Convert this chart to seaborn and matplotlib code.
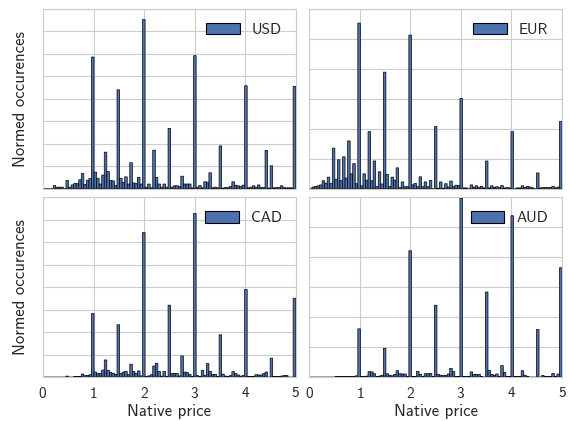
import numpy as np
import pandas as pd
import matplotlib
matplotlib.use("Agg")
import matplotlib.pyplot as plt
from matplotlib.patches import Patch
import seaborn as sns

sns.set_style("whitegrid")
plt.rcParams['font.family'] = ['cmss10', 'DejaVu Sans']
plt.rcParams['axes.formatter.use_mathtext'] = True

# price grid (0.05 .. 5.00 in steps of 0.05)
prices = np.round(np.arange(1, 101) * 0.05, 2)

currencies = ["USD", "EUR", "CAD", "AUD"]

usd = [0, 0, 0, 0, 0.13, 0.06, 0.06, 0.06, 0, 0.36,
       0.06, 0.16, 0.22, 0.22, 0.39, 0.67, 0.18, 0.37, 0.45, 5.86,
       0.73, 0.46, 0.2, 0.6, 1.62, 0.76, 0.36, 0.34, 0.13, 4.40,
       0.46, 0.27, 0.52, 0.2, 1.15, 0.25, 0.22, 0.5, 0.2, 7.53,
       0.06, 0.2, 0.03, 1.71, 0.5, 0.2, 0.06, 0.2, 0.06, 2.68,
       0.06, 0.12, 0.12, 0.09, 0.55, 0.2, 0.2, 0.2, 0.03, 5.92,
       0.06, 0.13, 0.03, 0.3, 0.28, 0.7, 0.03, 0.06, 0.03, 1.90,
       0.02, 0.04, 0.04, 0.09, 0.3, 0.15, 0.12, 0.09, 0.15, 4.58,
       0.03, 0.06, 0.12, 0.06, 0.16, 0.04, 0.04, 1.70, 0.02, 1.01,
       0.03, 0.04, 0.04, 0.12, 0.04, 0.03, 0.03, 0.03, 0.0, 4.55]

eur = [0, 0.05, 0.07, 0.09, 0.12, 0.26, 0.18, 0.38, 0.17, 1.35,
       0.31, 0.96, 0.26, 1.06, 0.35, 1.59, 0.49, 0.83, 0.16, 5.53,
       0.09, 0.49, 0.28, 1.9, 0.26, 0.92, 0.07, 0.56, 0.15, 3.89,
       0.47, 0.07, 0.38, 0.28, 0.69, 0.03, 0.22, 0.06, 0.06, 5.13,
       0.12, 0.17, 0.06, 0.39, 0.06, 0.22, 0.06, 0.27, 0.0, 2.07,
       0.01, 0.22, 0.01, 0.16, 0.05, 0.25, 0.06, 0.11, 0.1, 3.01,
       0.02, 0.02, 0.0, 0.12, 0.05, 0.09, 0.04, 0.07, 0.02, 0.92,
       0.02, 0.09, 0.04, 0.06, 0.04, 0.1, 0.02, 0.03, 0.02, 1.9,
       0.0, 0.02, 0.02, 0.09, 0.04, 0.07, 0.05, 0.02, 0.0, 0.52,
       0.02, 0.03, 0.03, 0.03, 0.03, 0.07, 0.02, 0.05, 0.0, 2.24]

cad = [0, 0, 0, 0, 0, 0, 0, 0, 0, 0.04,
       0, 0, 0.02, 0.02, 0.03, 0.13, 0.06, 0.07, 0.1, 2.83,
       0.22, 0.15, 0.15, 0.31, 0.76, 0.3, 0.21, 0.16, 0.12, 2.33,
       0.16, 0.22, 0.25, 0.1, 0.57, 0.25, 0.16, 0.27, 0.05, 6.44,
       0.02, 0.05, 0.1, 0.49, 0.61, 0.25, 0.04, 0.25, 0.02, 3.2,
       0.16, 0.16, 0.16, 0.05, 0.94, 0.22, 0.2, 0.12, 0.02, 7.29,
       0.06, 0.03, 0.3, 0.08, 0.6, 0.25, 0.12, 0.12, 0.02, 1.88,
       0.13, 0.04, 0.03, 0.06, 0.24, 0.15, 0.09, 0.04, 0.06, 3.9,
       0.02, 0.03, 0.03, 0.1, 0.09, 0.09, 0.15, 0.22, 0.0, 0.84,
       0.02, 0.02, 0.03, 0.04, 0.07, 0.07, 0.0, 0.0, 0.0, 3.51]

aud = [0, 0, 0, 0, 0, 0, 0, 0, 0, 0,
       0.01, 0.01, 0.01, 0.01, 0.01, 0.01, 0.01, 0.02, 0.04, 1.61,
       0.02, 0.01, 0.03, 0.18, 0.17, 0.11, 0.02, 0.03, 0.06, 0.96,
       0.11, 0.06, 0.04, 0.09, 0.21, 0.11, 0.1, 0.1, 0.02, 4.22,
       0.02, 0.02, 0.19, 0.09, 0.02, 0.11, 0.11, 0.12, 0.02, 2.40,
       0.09, 0.06, 0.05, 0.05, 0.1, 0.29, 0.18, 0.02, 0.02, 5.97,
       0.02, 0.01, 0.02, 0.17, 0.09, 0.09, 0.09, 0.02, 0.0, 2.84,
       0.22, 0.09, 0.06, 0.1, 0.02, 0.38, 0.15, 0.02, 0.02, 5.39,
       0.01, 0.01, 0.02, 0.21, 0.06, 0.02, 0.0, 0.0, 0.0, 1.59,
       0.0, 0.05, 0.01, 0.01, 0.02, 0.12, 0.02, 0.1, 0.0, 3.65]

series = [usd, eur, cad, aud]
y_tops = [8, 6, 8, 6]
x_ticks = [0, 1, 2, 3, 4, 5]

bar_color = "#4c72b0"

fig, axes = plt.subplots(2, 2, figsize=(5.69, 4.21), dpi=100, sharex=True)
fig.subplots_adjust(left=43 / 569, right=562 / 569, top=1 - 9 / 421,
                    bottom=1 - 377 / 421, wspace=0.054, hspace=0.05)

for ax, name, h, ytop in zip(axes.flat, currencies, series, y_tops):
    df = pd.DataFrame({"price": prices, "weight": h})
    sns.histplot(data=df, x="price", weights="weight", bins=99, binrange=(0, 5),
                 ax=ax, color=bar_color, edgecolor="black", linewidth=0.5,
                 alpha=1, snap=False)
    ax.set_xlim(0, 5)
    ax.set_ylim(0, ytop)
    ax.set_xticks(x_ticks)
    ax.set_yticks(range(0, ytop + 1))
    ax.set_yticklabels([])
    ax.set_ylabel("")
    ax.set_xlabel("")
    ax.tick_params(axis="x", labelsize=11, pad=3)
    handle = Patch(facecolor=bar_color, edgecolor="black", linewidth=0.8)
    ax.legend([handle], [name], loc="upper right", frameon=False, fontsize=11,
              handlelength=2.2, handleheight=0.8, handletextpad=0.8)

for ax in axes[:, 0]:
    ax.set_ylabel("Normed occurences", fontsize=12)
for ax in axes[1, :]:
    ax.set_xlabel("Native price", fontsize=12, labelpad=2)

fig.savefig("out.png", dpi=100)
